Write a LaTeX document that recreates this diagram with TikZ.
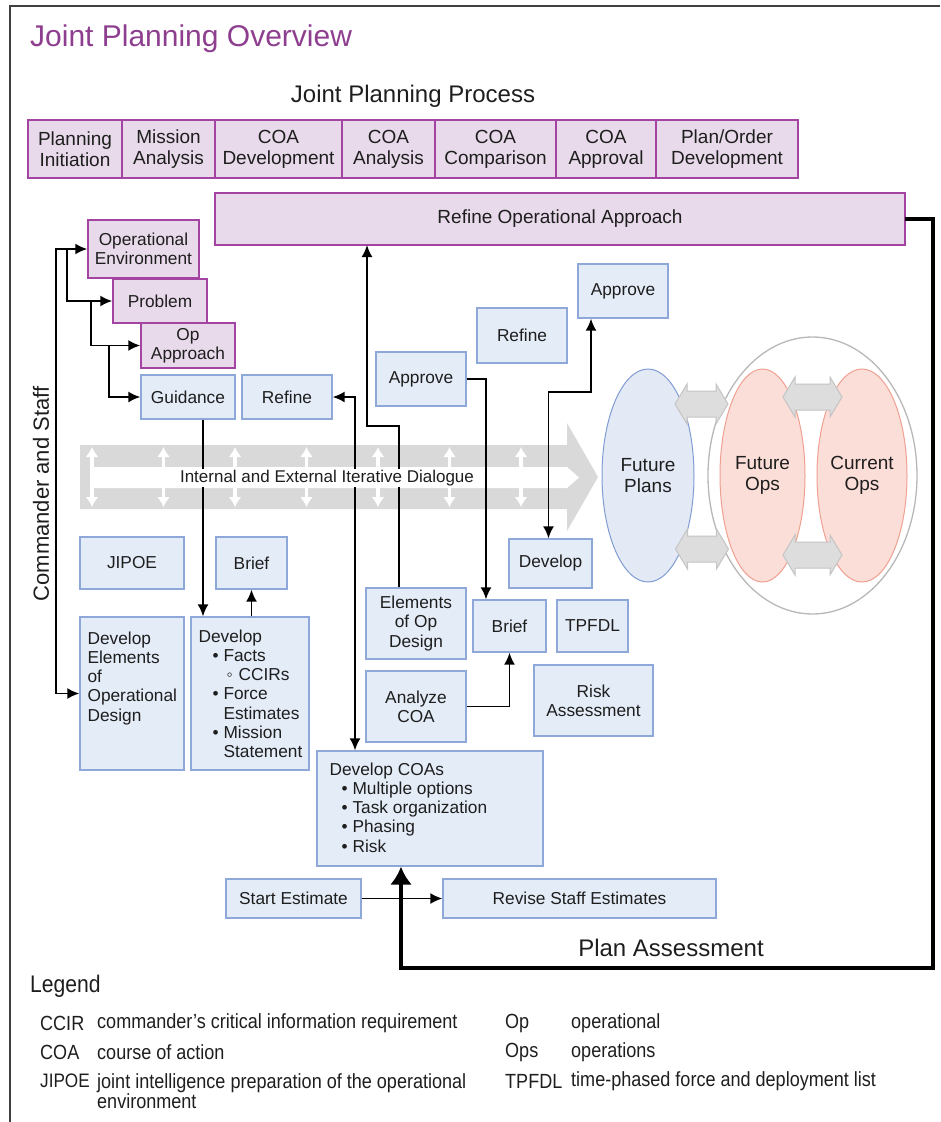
\documentclass[tikz,border=0pt]{standalone}
\usepackage{fontspec}
\setmainfont{Liberation Sans}
\newfontfamily\legendfont[FakeStretch=0.88]{Liberation Sans}
\usetikzlibrary{positioning,calc,arrows.meta,shapes.geometric}

\definecolor{procfill}{RGB}{232,218,234}
\definecolor{procline}{RGB}{163,68,163}
\definecolor{titlecol}{RGB}{142,62,142}
\definecolor{actfill}{RGB}{228,236,247}
\definecolor{actline}{RGB}{143,168,218}
\definecolor{bandgray}{RGB}{217,217,217}
\definecolor{plansfill}{RGB}{227,234,246}
\definecolor{plansline}{RGB}{128,156,210}
\definecolor{opsfill}{RGB}{251,222,216}
\definecolor{opsline}{RGB}{240,160,145}
\definecolor{twowayfill}{RGB}{221,221,221}
\definecolor{twowayline}{RGB}{196,196,196}
\definecolor{textcol}{RGB}{30,30,30}

\newcommand{\boxfont}{\fontsize{17.3}{19.3}\selectfont}
\newcommand{\procfont}{\fontsize{19}{21}\selectfont}
\newcommand{\bul}{\makebox[11pt][l]{\textbullet}}

\begin{document}
\begin{tikzpicture}[x=1pt, y=-1pt, >={Latex[length=12pt,width=11pt]},
    procbox/.style={draw=procline, fill=procfill, line width=1.5pt,
        outer sep=0pt, inner sep=1pt, align=center, text=textcol, font=\procfont},
    cascbox/.style={draw=procline, fill=procfill, line width=1.5pt,
        inner sep=1pt, align=center, text=textcol, font=\boxfont},
    actbox/.style={draw=actline, fill=actfill, line width=1.3pt,
        inner sep=1pt, align=center, text=textcol, font=\boxfont},
    txt/.style={inner sep=0pt, align=left, text=textcol, font=\boxfont},
    legtxt/.style={anchor=west, inner sep=0pt, align=left, text=textcol,
        font=\legendfont\fontsize{20.5}{20}\selectfont},
    link/.style={line width=1.8pt},
    pool/.style={ellipse, line width=1pt, inner sep=0pt, align=center,
        text=textcol, font=\procfont, minimum height=213}
]
    \useasboundingbox (0,0) rectangle (940,1122);
    \draw[line width=2pt, black!75] (10,1122) -- (10,6) -- (940,6);

    % Titles
    \node[anchor=base west, inner sep=0pt, text=titlecol,
        font=\fontsize{30}{34}\selectfont] (title) at (30,46) {Joint Planning Overview};
    \node[anchor=base, inner sep=0pt, text=textcol,
        font=\fontsize{24}{28}\selectfont] (jpphead) at (413,102) {Joint Planning Process};

    % Process row
    \node [procbox,
        minimum width=94,
        minimum height=58
    ]  (pinit) at (75,149) {Planning\\Initiation};
    \node [procbox,
        minimum width=93,
        minimum height=58,
        right=0cm of pinit
    ]  (misnan) {Mission\\Analysis};
    \node [procbox,
        minimum width=127,
        minimum height=58,
        right=0cm of misnan
    ]  (coadev) {COA\\Development};
    \node [procbox,
        minimum width=93,
        minimum height=58,
        right=0cm of coadev
    ]  (coaan) {COA\\Analysis};
    \node [procbox,
        minimum width=121,
        minimum height=58,
        right=0cm of coaan
    ]  (coacmp) {COA\\Comparison};
    \node [procbox,
        minimum width=100,
        minimum height=58,
        right=0cm of coacmp
    ]  (coaapp) {COA\\Approval};
    \node [procbox,
        minimum width=142,
        minimum height=58,
        right=0cm of coaapp
    ]  (plandev) {Plan/Order\\Development};

    \node [procbox,
        minimum width=690,
        minimum height=52
    ]  (refop) at (560,219) {Refine Operational Approach};

    % Dialogue band
    \fill[bandgray] (80,445) -- (567,445) -- (567,423) -- (598,477)
        -- (567,531) -- (567,509) -- (80,509) -- cycle;
    \fill[white] (92,467) -- (567,467) -- (579,477.5) -- (567,488) -- (92,488) -- cycle;
    \foreach \k in {0,...,6}
        \draw[white, line width=3.5pt, {Latex[length=10pt,width=13pt]}-{Latex[length=10pt,width=13pt]}]
            (92+71.5*\k,447) -- (92+71.5*\k,507);

    % Plans and operations
    \node[ellipse, draw=black!28, line width=1.3pt, fill=white,
        minimum width=209, minimum height=277] (opsring) at (812.5,475.5) {};
    \node[pool, draw=plansline, fill=plansfill, minimum width=92] (fplans) at (648,475.5) {Future\\Plans};
    \node[pool, draw=opsline, fill=opsfill, minimum width=85] (fops) at (762.5,475.5) {Future\\Ops};
    \node[pool, draw=opsline, fill=opsfill, minimum width=90] (cops) at (862,475.5) {Current\\Ops};
    \foreach \cx/\cy/\hl in {701.5/404/26.5, 702/549/26.5, 812.5/397/29.5, 812.5/555/29.5}
        \filldraw[fill=twowayfill, draw=twowayline, line width=1pt]
            (\cx-\hl,\cy) -- ++(12,-20) -- ++(0,7) -- ++(2*\hl-24,0) -- ++(0,-7)
            -- ++(12,20) -- ++(-12,20) -- ++(0,-7) -- ++(-2*\hl+24,0) -- ++(0,7) -- cycle;

    % Commander and staff cascade
    \node[cascbox, minimum width=111, minimum height=58] (openv) at (143.5,249) {Operational\\Environment};
    \node[cascbox, minimum width=94, minimum height=44] (probl) at (160,301) {Problem};
    \node[cascbox, minimum width=94, minimum height=45] (opapp) at (188,345.5) {Op\\Approach};
    \node[actbox, minimum width=94, minimum height=44] (guid) at (188,397) {Guidance};
    \node[actbox, minimum width=90, minimum height=44] (refl) at (287,397) {Refine};
    \node[actbox, minimum width=90, minimum height=54] (apprm) at (421,379) {Approve};
    \node[actbox, minimum width=90, minimum height=55] (refr) at (522,335.5) {Refine};
    \node[actbox, minimum width=90, minimum height=54] (appr) at (623,291) {Approve};

    \node[rotate=90, inner sep=0pt, text=textcol,
        font=\fontsize{22}{26}\selectfont] (cmdstaff) at (41,494) {Commander and Staff};

    % Lower boxes
    \node[actbox, minimum width=104, minimum height=52] (jipoe) at (132,563) {JIPOE};
    \node[actbox, minimum width=71, minimum height=52] (briefl) at (251.5,563) {Brief};
    \node[actbox, minimum width=104, minimum height=153] (delem) at (132,693.5) {};
    \node[txt, anchor=north west] (delemtxt) at ([shift={(8,15)}]delem.north west)
        {Develop\\Elements\\of\\Operational\\Design};
    \node[actbox, minimum width=118, minimum height=153] (devl) at (250,693.5) {};
    \node[txt, anchor=north west] (devltxt) at ([shift={(8,13)}]devl.north west)
        {Develop\\
        \hspace*{14pt}\bul Facts\\
        \hspace*{28pt}\makebox[12pt][l]{◦}CCIRs\\
        \hspace*{14pt}\bul Force\\
        \hspace*{25pt}Estimates\\
        \hspace*{14pt}\bul Mission\\
        \hspace*{25pt}Statement};
    \node[actbox, minimum width=100, minimum height=71] (eopd) at (416,623.5) {Elements\\of Op\\Design};
    \node[actbox, minimum width=100, minimum height=71] (anacoa) at (416,706.5) {Analyze\\COA};
    \node[actbox, minimum width=73, minimum height=52] (briefm) at (509.5,626) {Brief};
    \node[actbox, minimum width=71, minimum height=52] (tpfdl) at (592.5,626) {TPFDL};
    \node[actbox, minimum width=119, minimum height=71] (risk) at (593.5,700.5) {Risk\\Assessment};
    \node[actbox, minimum width=83, minimum height=49] (devr) at (550.5,563.5) {Develop};
    \node[actbox, minimum width=226, minimum height=115] (devcoa) at (430,808.5) {};
    \node[txt, anchor=north west] (devcoatxt) at ([shift={(13,12)}]devcoa.north west)
        {Develop COAs\\
        \hspace*{12pt}\bul Multiple options\\
        \hspace*{12pt}\bul Task organization\\
        \hspace*{12pt}\bul Phasing\\
        \hspace*{12pt}\bul Risk};
    \node[actbox, minimum width=135, minimum height=39] (start) at (293.5,898.5) {Start Estimate};
    \node[actbox, minimum width=273, minimum height=39] (revise) at (579.5,898.5) {Revise Staff Estimates};

    % Connectors
    \draw[link,<->] (openv.west) -- ++(-31,0) |- (delem.west);
    \draw[link,->] (openv.west) ++(-20,0) |- (probl.west);
    \draw[link,->] (probl.west) ++(-21,0) |- (opapp.west);
    \draw[link,->] (opapp.west) ++(-31,0) |- (guid.west);
    \draw[link,->] ([xshift=15]guid.south) -- ([xshift=15]guid.south |- devl.north);
    \draw[link,->] (briefl.south |- devl.north) -- (briefl.south);
    \draw[link,<->] (refl.east) -| ([xshift=-75]devcoa.north);
    \draw[link,->] ([xshift=-17]eopd.north) -- ++(0,-161) -| ([xshift=-193]refop.south);
    \draw[link,->] (apprm.east) -| ([xshift=-23.5]briefm.north);
    \draw[link,->] (anacoa.east) -| (briefm.south);
    \draw[link,<->] ([xshift=-2]devr.north) -- ++(0,-146) -| ([xshift=-32]appr.south);
    \draw[link,->] (start) -- (revise);

    \node[fill=white, inner sep=1pt, text=textcol,
        font=\fontsize{17}{19}\selectfont] (dialog) at (327,478) {Internal and External Iterative Dialogue};

    % Plan assessment loop
    \draw[line width=4pt, -{Latex[length=18pt,width=22pt]}] (refop.east) -- ++(28,0)
        -- ++(0,749) -| ([xshift=-29]devcoa.south);
    \node[anchor=base, inner sep=0pt, text=textcol,
        font=\fontsize{24}{28}\selectfont] (planassess) at (671,956) {Plan Assessment};

    % Legend
    \node[anchor=west, inner sep=0pt, text=textcol,
        font=\legendfont\fontsize{24}{26}\selectfont] (legend) at (30,986) {Legend};
    \node[legtxt] (lgccir) at (40,1023) {CCIR};
    \node[legtxt] (lgccirdef) at (97,1023) {commander’s critical information requirement};
    \node[legtxt] (lgcoa) at (40,1052) {COA};
    \node[legtxt] (lgcoadef) at (97,1052) {course of action};
    \node[legtxt, font=\legendfont\fontsize{19.5}{20}\selectfont] (lgjipoe) at (40,1081) {JIPOE};
    \node[legtxt, anchor=north west] (lgjipoedef) at (lgjipoe.north -| lgcoadef.west)
        {joint intelligence preparation of the operational\\environment};
    \node[legtxt] (lgop) at (505,1023) {Op};
    \node[legtxt] (lgopdef) at (571,1023) {operational};
    \node[legtxt] (lgops) at (505,1052) {Ops};
    \node[legtxt] (lgopsdef) at (571,1052) {operations};
    \node[legtxt] (lgtpfdl) at (505,1081) {TPFDL};
    \node[legtxt] (lgtpfdldef) at (571,1081) {time-phased force and deployment list};
\end{tikzpicture}
\end{document}
